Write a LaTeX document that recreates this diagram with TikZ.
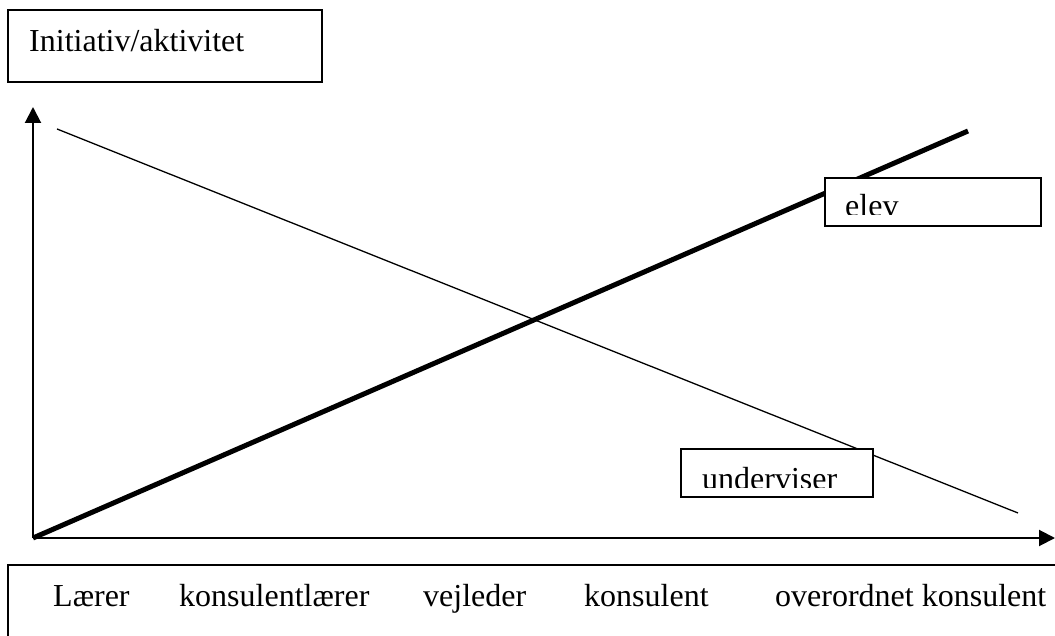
\documentclass[tikz,border=0pt]{standalone}
\usepackage{fontspec}
\setmainfont{Liberation Serif}
\usetikzlibrary{arrows.meta}
\tikzset{
  labeltext/.style={anchor=base west, inner sep=0pt, font=\fontsize{32}{38}\selectfont},
  boxline/.style={draw=black, line width=2pt, fill=white},
  axis/.style={line width=2pt, -{Triangle[width=16pt,length=16pt]}},
  thinline/.style={line width=1.3pt},
  thickline/.style={line width=5pt},
}
\begin{document}
\begin{tikzpicture}[x=1pt,y=-1pt]
\useasboundingbox (0,0) rectangle (1055,636);
% coordinates
\coordinate (O) at (33,538);
\coordinate (Ytop) at (33,107);
\coordinate (Xend) at (1055,538);
\coordinate (U1) at (57,129);
\coordinate (U2) at (1018,513);
\coordinate (E2) at (968,131);
% title box
\draw[boxline] (8,10) rectangle (322,82);
\node[labeltext] (title) at (29,52) {Initiativ/aktivitet};
% axes
\draw[axis] (O) -- (Ytop);
\draw[axis] (O) -- (Xend);
% lines
\draw[thinline] (U1) -- (U2);
\draw[thickline] (O) -- (E2);
% elev box
\draw[boxline] (825,178) rectangle (1041,226);
\begin{scope}
  \clip (826,179) rectangle (1040,215);
  \node[labeltext] (elev) at (845,217) {elev};
\end{scope}
% underviser box
\draw[boxline] (681,449) rectangle (873,497);
\begin{scope}
  \clip (682,450) rectangle (872,487);
  \node[labeltext] (underviser) at (702,489) {underviser};
\end{scope}
% bottom box
\draw[boxline] (8,565) rectangle (1070,660);
\node[labeltext] (l1) at (53,606) {Lærer};
\node[labeltext] (l2) at (179,606) {konsulentlærer};
\node[labeltext] (l3) at (423,606) {vejleder};
\node[labeltext] (l4) at (584,606) {konsulent};
\node[labeltext] (l5) at (775,606) {overordnet konsulent};
\end{tikzpicture}
\end{document}
